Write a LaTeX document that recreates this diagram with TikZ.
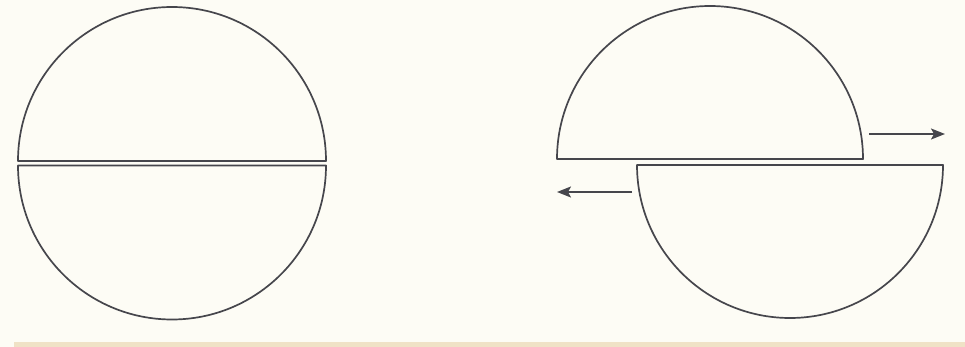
\documentclass[tikz,border=0pt]{standalone}
\usetikzlibrary{arrows.meta}
\definecolor{paper}{RGB}{253,252,245}
\definecolor{ink}{RGB}{70,70,76}
\definecolor{edgetan}{RGB}{240,226,198}

\begin{document}
\begin{tikzpicture}[x=1pt, y=-1pt,
  half/.style={draw=ink, line width=1.7pt, fill=paper, line join=round},
  arr/.style={-{Stealth[length=14pt, width=11pt, inset=3pt]}, draw=ink, line width=1.7pt}]
\fill[paper] (0,0) rectangle (965,347);
\fill[edgetan] (14,342) rectangle (965,347);
% whole ball, cut in two
\draw[half] (18,161) arc[start angle=180, end angle=360, radius=154] -- cycle;
\draw[half] (18,165.5) arc[start angle=180, end angle=0, radius=154] -- cycle;
% halves sliding apart
\draw[half] (557,159) arc[start angle=180, end angle=360, radius=153] -- cycle;
\draw[half] (637,165) arc[start angle=180, end angle=0, radius=153] -- cycle;
\coordinate (rtail) at (869,134);
\coordinate (rhead) at (945,134);
\coordinate (ltail) at (632,192);
\coordinate (lhead) at (557,192);
\draw[arr] (rtail) -- (rhead);
\draw[arr] (ltail) -- (lhead);
\end{tikzpicture}
\end{document}
